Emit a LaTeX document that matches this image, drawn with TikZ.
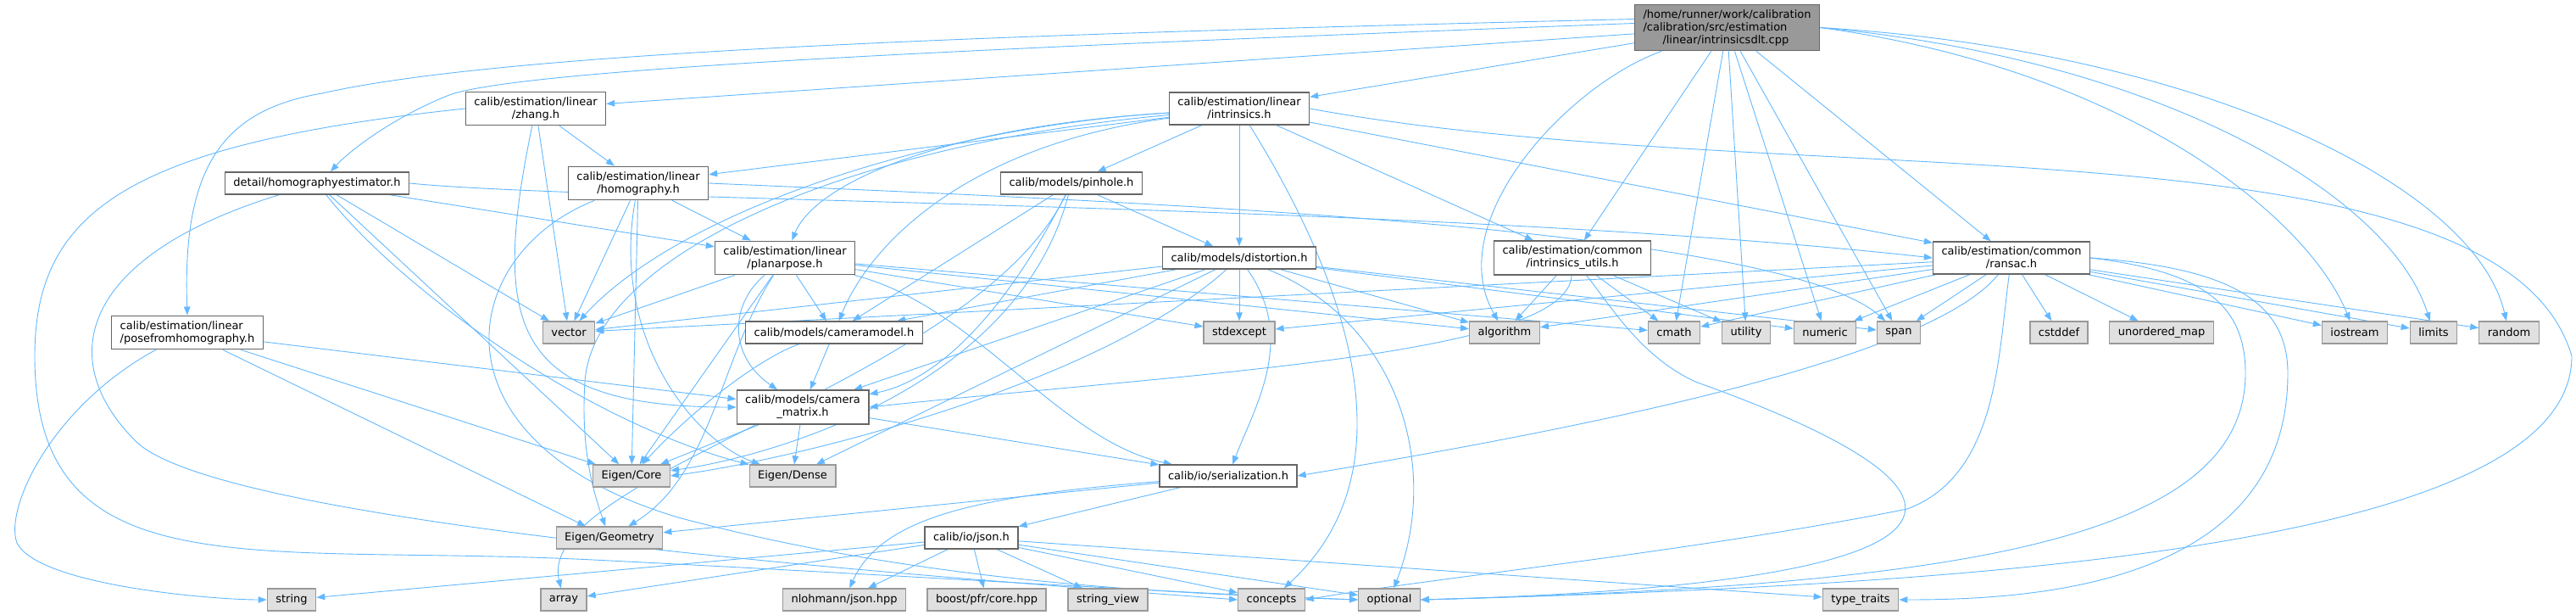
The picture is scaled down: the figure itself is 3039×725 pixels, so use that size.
\documentclass[tikz,border=0pt]{standalone}
\usepackage{fontspec}
\setmainfont{DejaVu Sans}
\usepackage{tikz}
\usetikzlibrary{arrows.meta,backgrounds}
\definecolor{depblue}{HTML}{63B8FF}
\definecolor{boxgray}{HTML}{666666}
\definecolor{sysgray}{HTML}{999999}
\definecolor{sysfill}{HTML}{E0E0E0}
\definecolor{rootfill}{HTML}{999999}

\begin{document}
\begin{tikzpicture}[x=1pt,y=-1pt,
  filebox/.style={draw=boxgray,fill=white,line width=1.3pt,inner xsep=10pt,inner ysep=6pt,
    minimum height=26pt,align=center,font=\fontsize{13}{15}\selectfont},
  sysbox/.style={filebox,draw=sysgray,fill=sysfill},
  rootbox/.style={filebox,fill=rootfill,align=left},
  dep/.style={draw=depblue,line width=0.9pt,-{Triangle[length=10pt,width=7.5pt]}}]
\useasboundingbox (0,0) rectangle (3039,725);

% Root file
\node[rootbox] (main) at (2037.5,32.5) {/home/runner/work/calibration\\/calibration/src/estimation\\\hspace*{23pt}/linear/intrinsicsdlt.cpp};

% Project headers
\node[filebox] (zhang) at (632,128) {calib/estimation/linear\\/zhang.h};
\node[filebox] (intr) at (1462,128) {calib/estimation/linear\\/intrinsics.h};
\node[filebox] (hest) at (374,216) {detail/homographyestimator.h};
\node[filebox] (homog) at (753,216) {calib/estimation/linear\\/homography.h};
\node[filebox] (pinhole) at (1264,216) {calib/models/pinhole.h};
\node[filebox] (planar) at (926,304) {calib/estimation/linear\\/planarpose.h};
\node[filebox] (dist) at (1462,304) {calib/models/distortion.h};
\node[filebox] (iutils) at (1855,304) {calib/estimation/common\\/intrinsics\_utils.h};
\node[filebox] (ransac) at (2373,304) {calib/estimation/common\\/ransac.h};
\node[filebox,align=left] (pfh) at (221,392) {calib/estimation/linear\\/posefromhomography.h};
\node[filebox] (cammodel) at (984,392) {calib/models/cameramodel.h};
\node[filebox] (cammat) at (947,480) {calib/models/camera\\\_matrix.h};
\node[filebox] (serial) at (1449,561) {calib/io/serialization.h};
\node[filebox] (json) at (1146,634) {calib/io/json.h};

% System headers
\foreach \name/\x/\y/\label in {vec/671/392/vector, stdexc/1462/392/stdexcept,
    algo/1775/392/algorithm, cmath/1975/392/cmath, util/2060/392/utility,
    numeric/2153/392/numeric, span/2240/392/span, cstddef/2429/392/cstddef,
    umap/2550/392/unordered\_map, iostream/2778/392/iostream, limits/2871/392/limits,
    random/2960/392/random, ecore/745/561/{Eigen/Core}, edense/935/561/{Eigen/Dense},
    egeom/719/634/{Eigen/Geometry}, string/344/707/string, array/665/707/array,
    nlohmann/996/707/{nlohmann/json.hpp}, pfr/1164/707/{boost/pfr/core.hpp},
    sview/1307/707/string\_view, concepts/1500/707/concepts,
    optional/1639/707/optional, ttraits/2195/707/type\_traits}
  \node[sysbox] (\name) at (\x,\y) {\label};

\begin{pgfonlayer}{background}
% Straight includes
\foreach \s/\t in {main/zhang, main/intr, main/iutils, main/ransac, main/cmath,
    main/util, main/numeric, main/span,
    zhang/homog, zhang/vec,
    hest/planar, hest/vec, hest/ecore,
    pfh/cammat, pfh/ecore, pfh/egeom,
    homog/planar, homog/vec, homog/ecore,
    intr/homog, intr/pinhole, intr/dist, intr/iutils, intr/ransac,
    pinhole/dist, pinhole/cammodel,
    planar/vec, planar/cammodel, planar/ecore, planar/stdexc, planar/algo, planar/cmath,
    dist/vec, dist/stdexc, dist/algo, dist/span, dist/numeric, dist/cammodel,
    dist/cammat, dist/edense,
    iutils/algo, iutils/cmath, iutils/util,
    ransac/vec, ransac/stdexc, ransac/algo, ransac/cmath, ransac/numeric, ransac/span,
    ransac/cstddef, ransac/umap, ransac/iostream, ransac/limits, ransac/random,
    cammodel/cammat, cammat/ecore, cammat/edense, cammat/serial,
    serial/json, serial/egeom,
    json/string, json/array, json/nlohmann, json/pfr, json/sview, json/concepts,
    json/optional, json/ttraits}
  \draw[dep] (\s) -- (\t);

% Routed includes
\draw[dep] ([yshift=10pt]main.west) .. controls (1200,40) and (600,60) .. (380,110)
  .. controls (260,130) and (215,200) .. (pfh.north);
\draw[dep] ([yshift=5pt]main.west) .. controls (1200,55) and (620,80) .. (530,112)
  .. controls (460,140) and (410,180) .. ([xshift=16pt]hest.north);
\draw[dep] (main) .. controls (1850,100) and (1700,260) .. (algo);
\draw[dep] (main.east) .. controls (2500,80) and (2720,250) .. (iostream);
\draw[dep] (main.east) .. controls (2550,70) and (2820,230) .. (limits);
\draw[dep] (main.east) .. controls (2600,60) and (2920,220) .. (random);
\draw[dep] (zhang.west) .. controls (150,170) and (41,250) .. (41,420)
  .. controls (41,700) and (300,640) .. (700,660) .. controls (1100,680) and (1400,700) .. (optional.west);
\draw[dep] (zhang) .. controls (580,380) and (600,480) .. (cammat.west);
\draw[dep] (hest) .. controls (100,300) and (60,420) .. (160,520)
  .. controls (260,620) and (1100,680) .. (concepts.west);
\draw[dep] (hest.east) .. controls (700,238) and (1700,240) .. (ransac.west);
\draw[dep] (hest) .. controls (480,350) and (700,500) .. (edense);
\draw[dep] (pfh) .. controls (60,480) and (5,600) .. (20,640)
  .. controls (45,690) and (250,707) .. (string.west);
\draw[dep] (homog) .. controls (540,300) and (500,520) .. (800,610)
  .. controls (1100,690) and (1400,700) .. (optional.west);
\draw[dep] (homog.east) .. controls (1400,240) and (2100,270) .. (span);
\draw[dep] (homog) .. controls (720,400) and (820,520) .. (edense);
\draw[dep] (intr) .. controls (1150,170) and (1030,280) .. (cammodel);
\draw[dep] (intr) .. controls (1100,150) and (960,220) .. (planar);
\draw[dep] (intr) .. controls (1100,150) and (800,250) .. (vec);
\draw[dep] (intr) .. controls (1000,170) and (700,300) .. (690,450)
  .. controls (685,530) and (700,580) .. (egeom);
\draw[dep] (intr) .. controls (1600,350) and (1660,560) .. (concepts);
\draw[dep] (intr.east) .. controls (2100,230) and (2950,130) .. (3034,420)
  .. controls (3034,650) and (2300,690) .. (optional.east);
\draw[dep] (pinhole) .. controls (1180,380) and (1100,450) .. (cammat);
\draw[dep] (pinhole) .. controls (1200,460) and (900,540) .. (ecore);
\draw[dep] (pinhole) .. controls (1150,450) and (630,560) .. (array);
\draw[dep] (planar) .. controls (860,360) and (860,420) .. (cammat);
\draw[dep] (planar) .. controls (850,420) and (840,560) .. (egeom);
\draw[dep] (planar) .. controls (1150,360) and (1250,520) .. (serial);
\draw[dep] (dist) .. controls (1530,400) and (1480,480) .. (serial);
\draw[dep] (dist) .. controls (1300,450) and (950,540) .. (ecore.east);
\draw[dep] (dist) .. controls (1650,380) and (1700,550) .. (optional);
\draw[dep] (iutils) .. controls (1900,360) and (1935,420) .. (2000,450)
  .. controls (2420,600) and (2300,690) .. (optional.east);
\draw[dep] (iutils) .. controls (1850,420) and (1400,440) .. (cammat.east);
\draw[dep] (ransac) .. controls (2280,420) and (1900,500) .. (serial.east);
\draw[dep] (ransac) .. controls (2357,420) and (2357,560) .. (2250,600)
  .. controls (2000,650) and (1700,680) .. (concepts.east);
\draw[dep] (ransac.east) .. controls (2600,320) and (2649,360) .. (2649,440)
  .. controls (2649,640) and (2300,690) .. (optional.east);
\draw[dep] (ransac.east) .. controls (2620,315) and (2699,350) .. (2699,440)
  .. controls (2699,690) and (2400,707) .. (ttraits.east);
\draw[dep] (cammodel) .. controls (900,420) and (820,480) .. (ecore);
\draw[dep] (serial) .. controls (1150,585) and (1040,610) .. (nlohmann);
\end{pgfonlayer}
\end{tikzpicture}
\end{document}
